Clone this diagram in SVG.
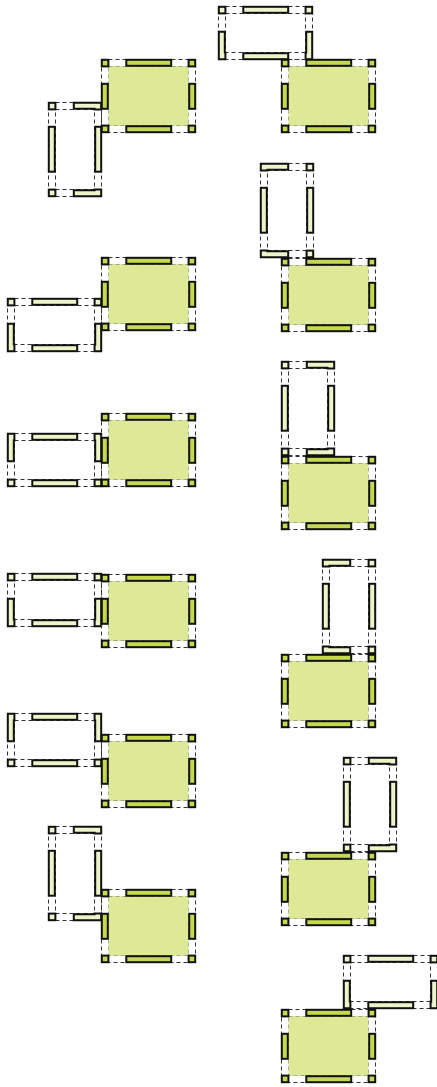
<svg xmlns="http://www.w3.org/2000/svg" width="437" height="1087" viewBox="0 0 437 1087">
<style>
.dash{fill:none;stroke:#333;stroke-width:1;stroke-dasharray:4 3}
.faint{fill:none;stroke:#667;stroke-width:.5;stroke-dasharray:4 3}
.core{fill:#dde996;stroke:none}
.d{fill:#c5d950;stroke:#111;stroke-width:2}
.l{fill:#eef3c9;stroke:#111;stroke-width:2}
</style>
<defs>
<g id="big">
<rect class="core" x="7.5" y="7" width="80" height="60"/>
<rect class="dash" x=".5" y=".5" width="94" height="73"/>
<rect class="faint" x="7.5" y="7.5" width="80" height="59"/>
<rect class="d" x=".8" y=".8" width="6.6" height="6.6"/><rect class="d" x="87.6" y=".8" width="6.6" height="6.6"/>
<rect class="d" x=".8" y="66.6" width="6.6" height="6.6"/><rect class="d" x="87.6" y="66.6" width="6.6" height="6.6"/>
<rect class="d" x="25.3" y=".8" width="44.9" height="6"/><rect class="d" x="25.3" y="67.2" width="44.9" height="6"/>
<rect class="d" x=".8" y="24.8" width="6" height="25"/><rect class="d" x="88.2" y="24.8" width="6" height="25"/>
</g>
<g id="hbase">
<rect class="dash" x=".5" y=".5" width="94" height="53"/>
<rect class="dash" x="7.5" y="7.5" width="80" height="39"/>
<rect class="l" x="25.3" y=".8" width="44.9" height="6"/><rect class="l" x="25.3" y="47.2" width="44.9" height="6"/>
</g>
<g id="hbottom">
<use href="#hbase"/>
<rect class="l" x=".8" y=".8" width="6.6" height="6.6"/><rect class="l" x="87.6" y=".8" width="6.6" height="6.6"/>
<path class="l" d="M.8,25.8H6.8V46.6H7.4V53.2H.8Z"/><path class="l" d="M94.2,25.8H88.2V46.6H87.6V53.2H94.2Z"/>
</g>
<g id="htop">
<use href="#hbase"/>
<rect class="l" x=".8" y="46.6" width="6.6" height="6.6"/><rect class="l" x="87.6" y="46.6" width="6.6" height="6.6"/>
<path class="l" d="M.8,.8H7.4V7.4H6.8V28.2H.8Z"/><path class="l" d="M94.2,.8H87.6V7.4H88.2V28.2H94.2Z"/>
</g>
<g id="vbase">
<rect class="dash" x=".5" y=".5" width="53" height="94"/>
<rect class="dash" x="7.5" y="7.5" width="39" height="80"/>
<rect class="l" x=".8" y="24.8" width="6" height="44.9"/><rect class="l" x="47.2" y="24.8" width="6" height="44.9"/>
</g>
<g id="vleft">
<use href="#vbase"/>
<rect class="l" x="46.6" y=".8" width="6.6" height="6.6"/><rect class="l" x="46.6" y="87.6" width="6.6" height="6.6"/>
<path class="l" d="M.8,.8H28.2V6.8H7.4V7.4H.8Z"/><path class="l" d="M.8,94.2H28.2V88.2H7.4V87.6H.8Z"/>
</g>
<g id="vright">
<use href="#vbase"/>
<rect class="l" x=".8" y=".8" width="6.6" height="6.6"/><rect class="l" x=".8" y="87.6" width="6.6" height="6.6"/>
<path class="l" d="M53.2,.8H25.8V6.8H46.6V7.4H53.2Z"/><path class="l" d="M53.2,94.2H25.8V88.2H46.6V87.6H53.2Z"/>
</g>
</defs>
<g id="frame-l1"><use href="#vright" x="48" y="102"/></g>
<g id="frame-l2"><use href="#hbottom" x="7" y="298"/></g>
<g id="frame-l3"><use href="#htop" x="7" y="433"/></g>
<g id="frame-l4"><use href="#hbottom" x="7" y="573"/></g>
<g id="frame-l5"><use href="#htop" x="7" y="713"/></g>
<g id="frame-l6"><use href="#vright" x="48" y="826"/></g>
<g id="frame-r1"><use href="#hbottom" x="218" y="6"/></g>
<g id="frame-r2"><use href="#vleft" x="260" y="163"/></g>
<g id="frame-r3"><use href="#vright" x="281" y="361"/></g>
<g id="frame-r4"><use href="#vleft" x="322" y="559"/></g>
<g id="frame-r5"><use href="#vright" x="343" y="757"/></g>
<g id="frame-r6"><use href="#hbottom" x="343" y="955"/></g>
<g id="room-l1"><use href="#big" x="101" y="59"/></g>
<g id="room-l2"><use href="#big" x="101" y="257"/></g>
<g id="room-l3"><use href="#big" x="101" y="413"/></g>
<g id="room-l4"><use href="#big" x="101" y="574"/></g>
<g id="room-l5"><use href="#big" x="101" y="734"/></g>
<g id="room-l6"><use href="#big" x="101" y="889"/></g>
<g id="room-r1"><use href="#big" x="281" y="59"/></g>
<g id="room-r2"><use href="#big" x="281" y="258"/></g>
<g id="room-r3"><use href="#big" x="281" y="456"/></g>
<g id="room-r4"><use href="#big" x="281" y="654"/></g>
<g id="room-r5"><use href="#big" x="281" y="852"/></g>
<g id="room-r6"><use href="#big" x="281" y="1009"/></g>
</svg>
